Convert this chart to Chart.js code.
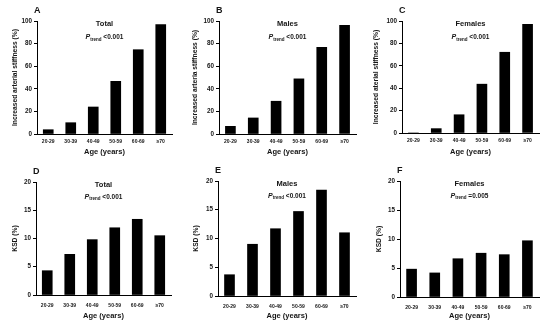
<!DOCTYPE html>
<html>
<head>
<meta charset="utf-8">
<script src="https://cdn.jsdelivr.net/npm/chart.js@4.4.0/dist/chart.umd.min.js"></script>
<style>
body { margin: 0; background: #fff; }
#wrap { position: relative; width: 550px; height: 324px; overflow: hidden; background: #fff; }
#wrap canvas { position: absolute; }
</style>
</head>
<body>
<div id="wrap"></div>
<script>
// Dati
const ageGroups = ['20-29', '30-39', '40-49', '50-59', '60-69', '≥70'];

const stiffTotal = [3.8, 10.0, 23.9, 46.6, 74.6, 96.8];
const stiffMales = [6.8, 14.2, 29.0, 48.8, 76.6, 96.2];
const stiffFemales = [0, 3.9, 16.3, 43.6, 72.1, 97.0];

const ksdTotal = [4.3, 7.2, 9.8, 11.9, 13.4, 10.5];
const ksdMales = [3.7, 9.0, 11.7, 14.7, 18.4, 11.0];
const ksdFemales = [4.8, 4.15, 6.6, 7.55, 7.3, 9.7];

const stiffTicks = [0, 20, 40, 60, 80, 100];
const ksdTicks = [0, 5, 10, 15, 20];

const panelLetters = ['A', 'B', 'C', 'D', 'E', 'F'];
const panelTitles = ['Total', 'Males', 'Females', 'Total', 'Males', 'Females'];
const pTrendValues = ['<0.001', '<0.001', '<0.001', '<0.001', '<0.001', '=0.005'];
const yTitles = [
    'Increased arterial stiffness (%)',
    'Increased arteria stiffness (%)',
    'Increased aterial stiffness (%)',
    'KSD (%)', 'KSD (%)', 'KSD (%)'
];
const xTitle = 'Age (years)';

const seriesList = [stiffTotal, stiffMales, stiffFemales, ksdTotal, ksdMales, ksdFemales];
const tickList = [stiffTicks, stiffTicks, stiffTicks, ksdTicks, ksdTicks, ksdTicks];

// Posizione di ogni pannello: canvas e area del grafico (coordinate assolute)
const layouts = [
    { cl: 0,   ct: 0,   cw: 180, ch: 160, l: 37,  t: 21,  r: 172, b: 134, yt: 15,  tp: 5,   xb: 3.5 },
    { cl: 180, ct: 0,   cw: 180, ch: 160, l: 219, t: 21,  r: 356, b: 134, yt: 195, tp: 5,   xb: 3.5 },
    { cl: 360, ct: 0,   cw: 190, ch: 160, l: 402, t: 21,  r: 539, b: 133, yt: 376, tp: 5,   xb: 3.5 },
    { cl: 0,   ct: 160, cw: 180, ch: 164, l: 36,  t: 182, r: 171, b: 295, yt: 15,  tp: 7.5, xb: 4 },
    { cl: 180, ct: 160, cw: 180, ch: 164, l: 218, t: 181, r: 356, b: 296, yt: 196, tp: 7.5, xb: 4 },
    { cl: 360, ct: 160, cw: 190, ch: 164, l: 400, t: 181, r: 539, b: 297, yt: 379, tp: 7.5, xb: 4 }
];

const FONT = "'Liberation Sans', Arial, sans-serif";
const TEXT = '#151515';

// Plugin per lettera del pannello, titolo e P trend
const annotations = {
    id: 'annotations',
    afterDraw(chart, args, opts) {
        const ctx = chart.ctx;
        const area = chart.chartArea;
        const cx = (area.left + area.right) / 2;
        ctx.save();
        ctx.fillStyle = TEXT;
        ctx.textBaseline = 'middle';

        ctx.font = 'bold 9px ' + FONT;
        ctx.textAlign = 'left';
        ctx.fillText(opts.letter, area.left - 3, area.top - 10.5);

        ctx.font = 'bold 7.5px ' + FONT;
        ctx.textAlign = 'center';
        ctx.fillText(opts.title, cx, area.top + opts.titleDy);

        // P trend con pedice
        const y = area.top + opts.pDy;
        const fP = 'italic bold 7px ' + FONT;
        const fSub = 'bold 4.5px ' + FONT;
        const fVal = 'bold 6.5px ' + FONT;
        const rest = ' ' + opts.p;
        ctx.font = fP; const wP = ctx.measureText('P').width;
        ctx.font = fSub; const wS = ctx.measureText('trend').width;
        ctx.font = fVal; const wV = ctx.measureText(rest).width;
        let x = cx - (wP + wS + wV) / 2;
        ctx.textAlign = 'left';
        ctx.font = fP; ctx.fillText('P', x, y); x += wP;
        ctx.font = fSub; ctx.fillText('trend', x, y + 1.8); x += wS;
        ctx.font = fVal; ctx.fillText(rest, x, y);
        ctx.restore();
    }
};

const wrap = document.getElementById('wrap');

layouts.forEach((lay, i) => {
    const canvas = document.createElement('canvas');
    canvas.width = lay.cw;
    canvas.height = lay.ch;
    canvas.style.left = lay.cl + 'px';
    canvas.style.top = lay.ct + 'px';
    canvas.style.width = lay.cw + 'px';
    canvas.style.height = lay.ch + 'px';
    wrap.appendChild(canvas);

    const ticks = tickList[i];
    const yMax = ticks[ticks.length - 1];
    const yStep = ticks[1] - ticks[0];
    const row = i < 3 ? 0 : 1;

    new Chart(canvas.getContext('2d'), {
        type: 'bar',
        data: {
            labels: ageGroups,
            datasets: [{
                data: seriesList[i],
                backgroundColor: '#000',
                borderWidth: 0,
                barThickness: 10
            }]
        },
        options: {
            responsive: false,
            animation: false,
            devicePixelRatio: 1,
            layout: {
                padding: {
                    left: 0,
                    top: lay.t - lay.ct,
                    right: lay.cl + lay.cw - lay.r,
                    bottom: 0
                }
            },
            plugins: {
                legend: { display: false },
                tooltip: { enabled: false },
                annotations: {
                    letter: panelLetters[i],
                    title: panelTitles[i],
                    p: pTrendValues[i],
                    titleDy: row === 0 ? 2.5 : 2.5,
                    pDy: row === 0 ? 16.5 : 15
                }
            },
            scales: {
                x: {
                    offset: true,
                    grid: { display: false, drawTicks: false },
                    border: { color: '#000', width: 1 },
                    ticks: {
                        color: TEXT,
                        padding: lay.tp,
                        maxRotation: 0,
                        autoSkip: false,
                        font: { family: FONT, size: 5, weight: 'bold' }
                    },
                    title: {
                        display: true,
                        text: xTitle,
                        color: TEXT,
                        padding: { top: 0, bottom: lay.xb },
                        font: { family: FONT, size: 7.5, weight: 'bold', lineHeight: 1.2 }
                    },
                    afterFit(scale) { scale.height = lay.ct + lay.ch - lay.b; }
                },
                y: {
                    min: 0,
                    max: yMax,
                    grid: {
                        drawOnChartArea: false,
                        drawTicks: true,
                        tickLength: 3,
                        color: '#000'
                    },
                    border: { color: '#000', width: 1 },
                    ticks: {
                        stepSize: yStep,
                        color: TEXT,
                        padding: 2,
                        font: { family: FONT, size: 6.3, weight: 'bold' }
                    },
                    title: {
                        display: true,
                        text: yTitles[i],
                        color: TEXT,
                        padding: { top: lay.yt - lay.cl - 4, bottom: 0 },
                        font: { family: FONT, size: 6.7, weight: 'bold', lineHeight: 1.2 }
                    },
                    afterFit(scale) { scale.width = lay.l - lay.cl; }
                }
            }
        },
        plugins: [annotations]
    });
});
</script>
</body>
</html>
